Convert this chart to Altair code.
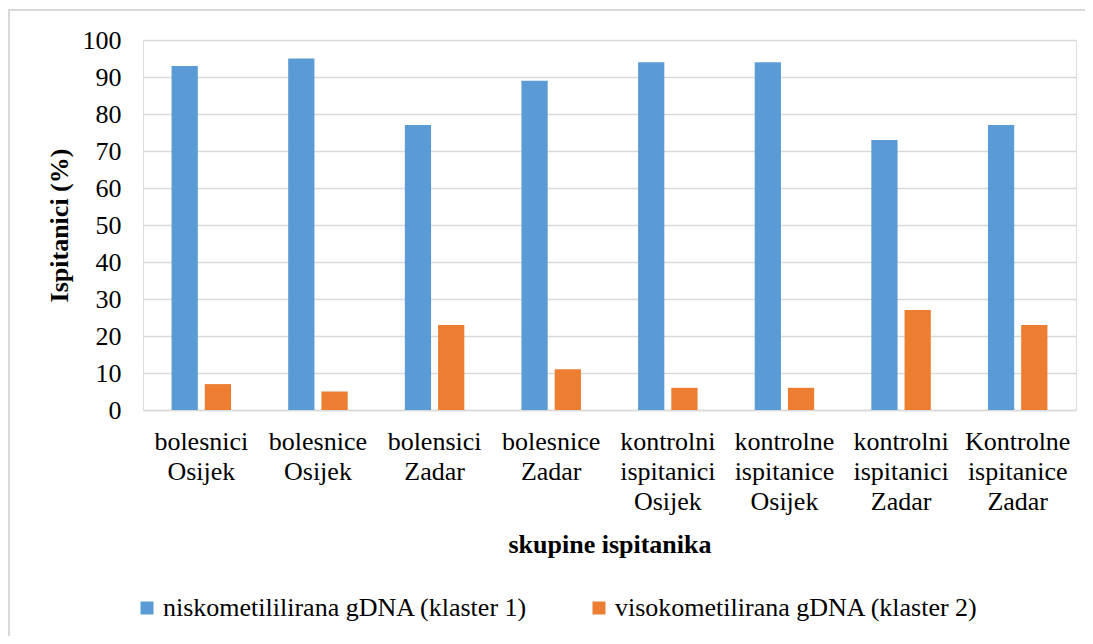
import altair as alt
import pandas as pd

categories = [
    "bolesnici Osijek",
    "bolesnice Osijek",
    "bolensici Zadar",
    "bolesnice Zadar",
    "kontrolni ispitanici Osijek",
    "kontrolne ispitanice Osijek",
    "kontrolni ispitanici Zadar",
    "Kontrolne ispitanice Zadar",
]
series_names = ["niskometililirana gDNA (klaster 1)", "visokometilirana gDNA (klaster 2)"]
klaster1 = [93, 95, 77, 89, 94, 94, 73, 77]
klaster2 = [7, 5, 23, 11, 6, 6, 27, 23]
y_ticks = [0, 10, 20, 30, 40, 50, 60, 70, 80, 90, 100]
colors = ["#5B9BD5", "#ED7D31"]

rows = []
for i, c in enumerate(categories):
    rows.append({"skupina": c, "serija": series_names[0], "vrijednost": klaster1[i]})
    rows.append({"skupina": c, "serija": series_names[1], "vrijednost": klaster2[i]})
df = pd.DataFrame(rows)

FONT = "Liberation Serif"
GRID = "#d9d9d9"

bars = alt.Chart(df).mark_bar().encode(
    x=alt.X(
        "skupina:N",
        sort=categories,
        scale=alt.Scale(paddingInner=0.49, paddingOuter=0.245),
        axis=alt.Axis(
            title="skupine ispitanika",
            labelAngle=0,
            labelExpr="split(datum.label, ' ')",
            labelLineHeight=30,
            labelFontSize=26,
            labelFont=FONT,
            labelColor="#000000",
            labelBaseline="top",
            labelPadding=18,
            labelLimit=200,
            ticks=False,
            domain=True,
            domainColor=GRID,
            domainWidth=1.5,
            titleFont=FONT,
            titleFontSize=26,
            titleFontWeight="bold",
            titleColor="#000000",
            titleY=134,
            titleBaseline="middle",
        ),
    ),
    xOffset=alt.XOffset(
        "serija:N",
        sort=series_names,
        scale=alt.Scale(paddingInner=0.21, paddingOuter=0),
    ),
    y=alt.Y(
        "vrijednost:Q",
        scale=alt.Scale(domain=[0, 100], nice=False),
        axis=alt.Axis(
            title="Ispitanici (%)",
            values=y_ticks,
            labelFontSize=26,
            labelFont=FONT,
            labelColor="#000000",
            labelPadding=22,
            ticks=False,
            domain=False,
            grid=True,
            gridColor=GRID,
            gridWidth=1.5,
            titleFont=FONT,
            titleFontSize=26,
            titleFontWeight="bold",
            titleColor="#000000",
            titleX=-84,
            titleY=185,
            titleBaseline="middle",
        ),
    ),
    color=alt.Color(
        "serija:N",
        sort=series_names,
        scale=alt.Scale(domain=series_names, range=colors),
        legend=alt.Legend(
            title=None,
            orient="none",
            legendX=-9,
            legendY=555,
            direction="horizontal",
            symbolType="square",
            symbolSize=169,
            symbolStrokeWidth=0,
            labelFont=FONT,
            labelFontSize=26,
            labelColor="#000000",
            labelOffset=3,
            labelLimit=500,
            columnPadding=58,
        ),
    ),
)

border_top = alt.Chart(df).mark_rule(color=GRID, strokeWidth=2).encode(
    x=alt.value(-135), x2=alt.value(1000), y=alt.value(-30)
)
border_left = alt.Chart(df).mark_rule(color=GRID, strokeWidth=2).encode(
    x=alt.value(-134), y=alt.value(-31), y2=alt.value(600)
)

chart = (
    alt.layer(border_top, border_left, bars)
    .properties(
        width=933,
        height=370,
        autosize=alt.AutoSizeParams(type="none"),
        padding={"left": 135, "top": 32, "right": 9, "bottom": 226},
    )
    .configure_view(stroke=None)
    .configure(background="white", font=FONT)
)

chart.save("out.html", embed_options={"renderer": "svg", "actions": False})
